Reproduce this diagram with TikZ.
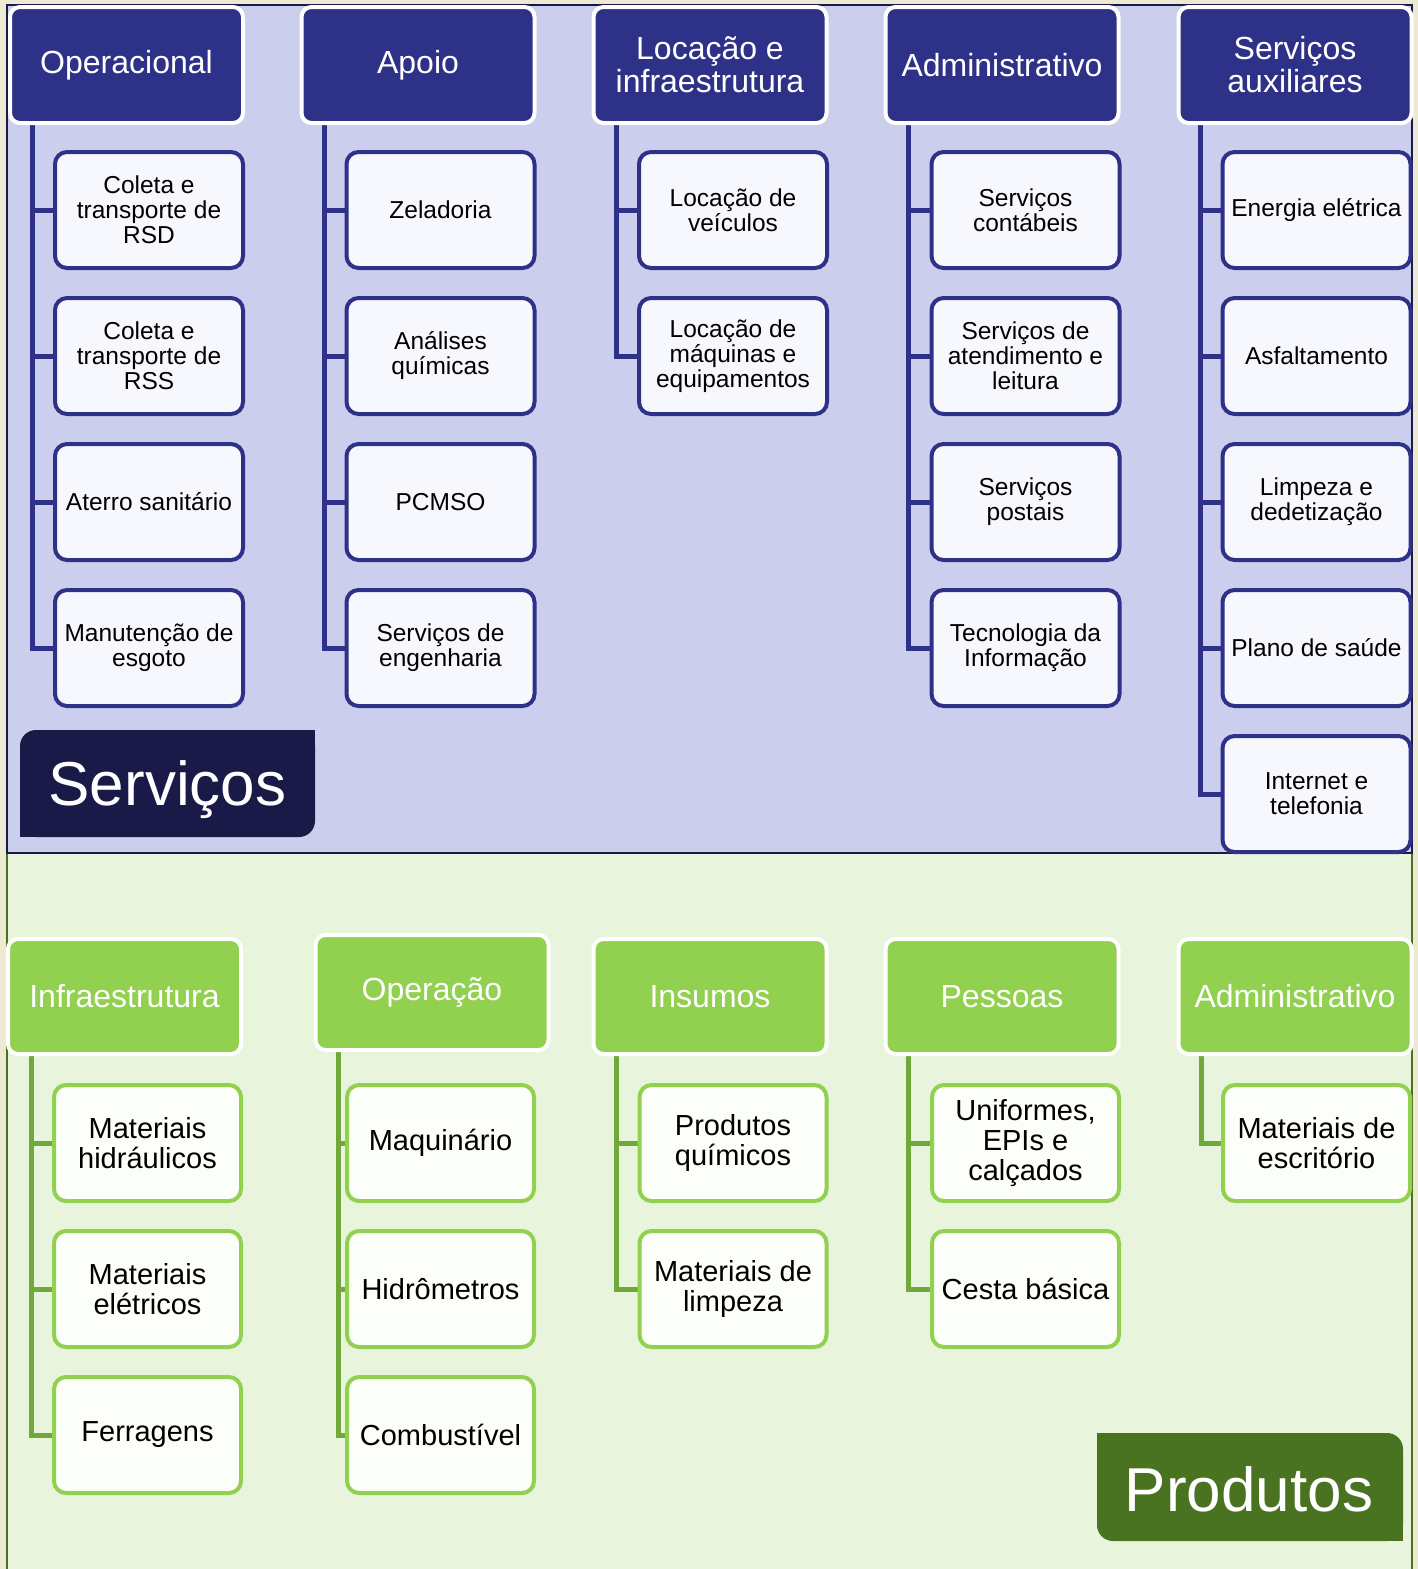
\documentclass[tikz,border=0pt]{standalone}
\usepackage{fontspec}
\setmainfont{Liberation Sans}
\definecolor{bgbeige}{HTML}{EEE9D2}
\definecolor{toppanel}{HTML}{CCCEED}
\definecolor{navydark}{HTML}{1A1A48}
\definecolor{blueh}{HTML}{2E3188}
\definecolor{childfill}{HTML}{F7F8FE}
\definecolor{botpanel}{HTML}{E8F5DC}
\definecolor{greendark}{HTML}{4A7321}
\definecolor{greenh}{HTML}{92D050}
\definecolor{greenconn}{HTML}{70A83C}
\definecolor{gchildfill}{HTML}{FCFEFA}
\pgfdeclarelayer{panel}
\pgfdeclarelayer{conn}
\pgfsetlayers{panel,conn,main}
\begin{document}
\begin{tikzpicture}[x=1pt,y=-1pt,
  bhead/.style={draw=white, fill=blueh, line width=4pt, rounded corners=10pt,
    minimum width=233pt, minimum height=116pt, inner sep=0pt, text=white,
    align=center, font=\fontsize{32}{33}\selectfont},
  ghead/.style={bhead, fill=greenh, minimum height=115pt},
  bchild/.style={draw=blueh, fill=childfill, line width=4pt, rounded corners=12pt,
    minimum width=188pt, minimum height=116pt, inner sep=0pt, text=black,
    align=center, font=\fontsize{24.5}{25}\selectfont},
  gchild/.style={bchild, draw=greenh, fill=gchildfill, minimum width=187pt,
    font=\fontsize{29}{30}\selectfont},
  bconn/.style={draw=blueh, line width=5pt},
  gconn/.style={draw=greenconn, line width=5pt},
  biglabel/.style={text=white, inner sep=0pt, font=\fontsize{62}{64}\selectfont}
]
\useasboundingbox (0,0) rectangle (1418,1569);
\begin{pgfonlayer}{panel}
\fill[bgbeige] (0,0) rectangle (1418,1569);
\draw[fill=botpanel, draw=greendark, line width=1.5pt] (7,853) rectangle (1412,1580);
\draw[fill=toppanel, draw=navydark, line width=1.5pt] (7,5) rectangle (1412,853);
\end{pgfonlayer}

% ---------- Top
\coordinate (tv1) at (32,0);
\coordinate (tv2) at (324,0);
\coordinate (tv3) at (616,0);
\coordinate (tv4) at (908,0);
\coordinate (tv5) at (1200,0);

\node[bhead] (h1) at (126.5,65) {Operacional};
\node[bhead] (h2) at (418,65) {Apoio};
\node[bhead] (h3) at (710,65) {Locação e\\infraestrutura};
\node[bhead] (h4) at (1002,65) {Administrativo};
\node[bhead] (h5) at (1295,65) {Serviços\\auxiliares};

\node[bchild] (c11) at (149,210) {Coleta e\\transporte de\\RSD};
\node[bchild] (c12) at (149,356) {Coleta e\\transporte de\\RSS};
\node[bchild] (c13) at (149,502) {Aterro sanitário};
\node[bchild] (c14) at (149,648) {Manutenção de\\esgoto};

\node[bchild] (c21) at (440.5,210) {Zeladoria};
\node[bchild] (c22) at (440.5,356) {Análises\\químicas};
\node[bchild] (c23) at (440.5,502) {PCMSO};
\node[bchild] (c24) at (440.5,648) {Serviços de\\engenharia};

\node[bchild] (c31) at (733,210) {Locação de\\veículos};
\node[bchild] (c32) at (733,356) {Locação de\\máquinas e\\equipamentos};

\node[bchild] (c41) at (1025.5,210) {Serviços\\contábeis};
\node[bchild] (c42) at (1025.5,356) {Serviços de\\atendimento e\\leitura};
\node[bchild] (c43) at (1025.5,502) {Serviços\\postais};
\node[bchild] (c44) at (1025.5,648) {Tecnologia da\\Informação};

\node[bchild] (c51) at (1316.5,210) {Energia elétrica};
\node[bchild] (c52) at (1316.5,356) {Asfaltamento};
\node[bchild] (c53) at (1316.5,502) {Limpeza e\\dedetização};
\node[bchild] (c54) at (1316.5,648) {Plano de saúde};
\node[bchild] (c55) at (1316.5,794) {Internet e\\telefonia};

\begin{pgfonlayer}{conn}
\foreach \c in {c11,c12,c13,c14} \draw[bconn] (h1.south -| tv1) |- (\c.west);
\foreach \c in {c21,c22,c23,c24} \draw[bconn] (h2.south -| tv2) |- (\c.west);
\foreach \c in {c31,c32} \draw[bconn] (h3.south -| tv3) |- (\c.west);
\foreach \c in {c41,c42,c43,c44} \draw[bconn] (h4.south -| tv4) |- (\c.west);
\foreach \c in {c51,c52,c53,c54,c55} \draw[bconn] (h5.south -| tv5) |- (\c.west);
\end{pgfonlayer}

% Serviços label
\fill[navydark, rounded corners=16pt] (20,730) rectangle (315,837);
\fill[navydark] (295,730) rectangle (315,750);
\fill[navydark] (20,817) rectangle (40,837);
\node[biglabel] (servicos) at (167.5,790) {Serviços};

% ---------- Bottom
\coordinate (gv1) at (31,0);
\coordinate (gv2) at (338,0);
\coordinate (gv3) at (616,0);
\coordinate (gv4) at (908,0);
\coordinate (gv5) at (1201,0);

\node[ghead] (g1) at (124.5,996.5) {Infraestrutura};
\node[ghead] (g2) at (432,992.5) {Operação};
\node[ghead] (g3) at (710,996.5) {Insumos};
\node[ghead] (g4) at (1002,996.5) {Pessoas};
\node[ghead] (g5) at (1295,996.5) {Administrativo};

\node[gchild] (d11) at (147.5,1143) {Materiais\\hidráulicos};
\node[gchild] (d12) at (147.5,1289) {Materiais\\elétricos};
\node[gchild] (d13) at (147.5,1435) {Ferragens};

\node[gchild] (d21) at (440.5,1143) {Maquinário};
\node[gchild] (d22) at (440.5,1289) {Hidrômetros};
\node[gchild] (d23) at (440.5,1435) {Combustível};

\node[gchild] (d31) at (733,1143) {Produtos\\químicos};
\node[gchild] (d32) at (733,1289) {Materiais de\\limpeza};

\node[gchild] (d41) at (1025.5,1143) {Uniformes,\\EPIs e\\calçados};
\node[gchild] (d42) at (1025.5,1289) {Cesta básica};

\node[gchild] (d51) at (1316.5,1143) {Materiais de\\escritório};

\begin{pgfonlayer}{conn}
\foreach \c in {d11,d12,d13} \draw[gconn] (g1.south -| gv1) |- (\c.west);
\foreach \c in {d21,d22,d23} \draw[gconn] (g2.south -| gv2) |- (\c.west);
\foreach \c in {d31,d32} \draw[gconn] (g3.south -| gv3) |- (\c.west);
\foreach \c in {d41,d42} \draw[gconn] (g4.south -| gv4) |- (\c.west);
\foreach \c in {d51} \draw[gconn] (g5.south -| gv5) |- (\c.west);
\end{pgfonlayer}

% Produtos label
\fill[greendark, rounded corners=16pt] (1097,1433) rectangle (1403,1541);
\fill[greendark] (1097,1433) rectangle (1117,1453);
\fill[greendark] (1383,1521) rectangle (1403,1541);
\node[biglabel] (produtos) at (1249,1489) {Produtos};
\end{tikzpicture}
\end{document}
